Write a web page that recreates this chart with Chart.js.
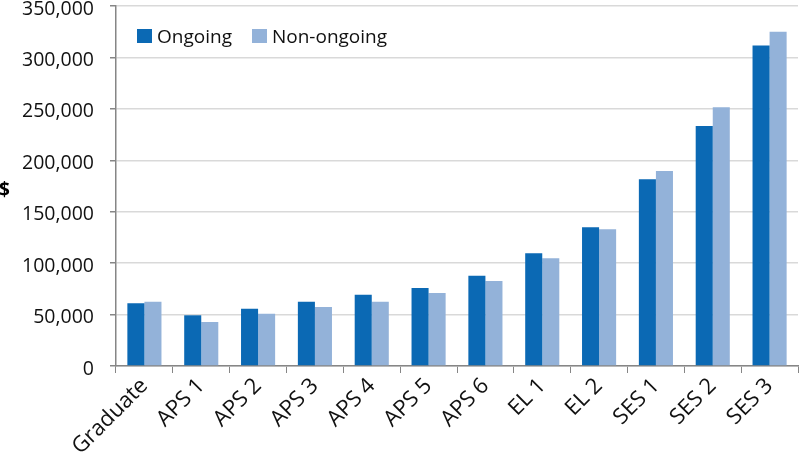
<!DOCTYPE html>
<html>
<head>
<meta charset="utf-8">
<script src="https://cdn.jsdelivr.net/npm/chart.js@4"></script>
<style>
  html,body{margin:0;padding:0;background:#fff;}
  .wrap{position:relative;width:800px;height:456px;}
  .legend{position:absolute;left:137px;top:23px;display:flex;align-items:center;
    font-family:'Open Sans',sans-serif;font-size:19px;color:#111;}
  .legend span{display:flex;align-items:center;margin-right:20px;}
  .legend i{display:inline-block;width:15px;height:14px;margin-right:5px;}
</style>
</head>
<body>
<div class="wrap">
  <canvas id="chart"></canvas>
  <div class="legend"></div>
</div>
<script>
const levels = ['Graduate','APS 1','APS 2','APS 3','APS 4','APS 5','APS 6','EL 1','EL 2','SES 1','SES 2','SES 3'];
const ongoing = [61000,49300,55700,62500,69300,75800,87800,109500,134800,181500,233300,311700];
const nonOngoing = [62500,42800,50800,57300,62500,71000,82600,104700,132900,189500,251500,325000];
const seriesNames = ['Ongoing','Non-ongoing'];
const seriesColors = ['#0b69b4','#93b2d9'];

const yFont = {family:"'Open Sans', sans-serif", size:19.5};
const xFont = {family:"'Open Sans', sans-serif", size:22};

// "$" sits outside the axis, horizontal
const dollarTitle = {
    id:'dollarTitle',
    afterDraw(chart){
        const c = chart.ctx;
        c.save();
        c.font = "bold 19px 'Open Sans', sans-serif";
        c.fillStyle = '#000';
        c.textBaseline = 'middle';
        c.fillText('$', -1, 191);
        c.restore();
    }
};

const chart = new Chart(document.getElementById('chart'), {
    type:'bar',
    data:{
        labels:levels,
        datasets:[
            {label:seriesNames[0], data:ongoing, backgroundColor:seriesColors[0]},
            {label:seriesNames[1], data:nonOngoing, backgroundColor:seriesColors[1]}
        ]
    },
    options:{
        responsive:true,
        maintainAspectRatio:false,
        animation:false,
        layout:{padding:{top:6,right:2,left:0,bottom:0}},
        datasets:{bar:{categoryPercentage:0.6,barPercentage:1}},
        plugins:{legend:{display:false},tooltip:{enabled:false}},
        scales:{
            x:{
                grid:{drawOnChartArea:false,drawTicks:true,tickLength:7,color:'#868686',offset:true},
                border:{color:'#868686',width:1.5},
                ticks:{font:xFont,color:'#111',maxRotation:45,minRotation:45,padding:0},
                afterFit:(s)=>{s.height=90;s.paddingLeft=0;s.paddingRight=0;}
            },
            y:{
                min:0,max:350000,
                grid:{color:'#d9d9d9',lineWidth:1.5,tickLength:6,tickColor:'#868686'},
                border:{color:'#868686',width:1.5},
                ticks:{stepSize:50000,font:yFont,color:'#111',padding:16,labelOffset:3,
                    callback:(v)=>v.toLocaleString('en-US')},
                afterFit:(s)=>{s.width=116;s.paddingTop=0;s.paddingBottom=0;}
            }
        }
    },
    plugins:[dollarTitle]
});

document.querySelector('.legend').innerHTML = chart.data.datasets
    .map(d=>`<span><i style="background:${d.backgroundColor}"></i>${d.label}</span>`).join('');
</script>
</body>
</html>
